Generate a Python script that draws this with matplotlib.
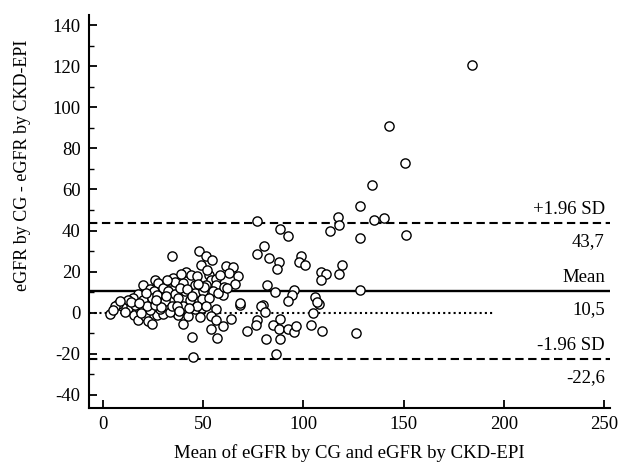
import numpy as np
import matplotlib.pyplot as plt
from matplotlib.ticker import MultipleLocator
import matplotlib.transforms as mtransforms

plt.rcParams['font.family'] = ['Liberation Serif', 'DejaVu Serif']
plt.rcParams['axes.unicode_minus'] = False

# ===============================
# Bland-Altman data
# mean of the two estimates / difference CG - CKD-EPI
# ===============================
mean_egfr = [
    184.1, 142.6, 150.6, 134.3, 128.0, 117.4, 117.7, 113.0, 135.0, 140.3, 128.3, 151.2,
    76.8, 88.1, 92.5, 80.5, 108.9, 111.4, 108.9, 119.0, 117.7, 128.0, 108.0, 109.4, 126.3,
    77.0, 83.0, 88.0, 86.7, 98.6, 97.6, 100.6, 82.0, 85.7, 95.1, 94.5, 92.3, 105.9, 106.9,
    79.8, 78.7,
    80.7, 104.7, 77.0, 76.5, 71.6, 88.1, 84.8, 87.8, 92.3, 95.3, 96.5, 103.9,
    81.2, 88.1, 86.5,
    40.0, 45.8, 49.2, 56.6, 68.2, 35.9, 37.5, 42.5, 48.3, 54.1, 56.6, 63.6, 40.0, 59.9,
    54.1, 44.2, 57.1, 45.0,
    3.5, 15.6, 17.3, 20.9, 22.6, 24.6, 26.7, 30.0, 33.4, 12.6, 9.3, 18.4, 23.4, 28.4,
    34.5, 19.8, 25.9, 27.5, 23.4, 25.6, 30.0, 33.4, 32.5, 17.6, 15.1, 12.6, 20.1, 24.3,
    28.4, 30.9, 7.6, 6.0, 15.9, 21.8, 25.9, 34.2, 35.0,
    47.9, 51.3, 54.6, 48.7, 61.3, 64.6, 62.9, 67.4, 65.7, 41.3, 43.7, 47.0, 52.9, 54.1,
    56.6, 35.9, 40.0, 45.8, 51.6, 56.6, 35.9, 40.8, 45.8, 49.9, 54.9, 59.9, 68.2, 37.5,
    43.3, 49.2, 53.0, 36.7, 46.7, 51.6,
    11.0, 14.0, 18.0, 21.5, 27.0, 31.5, 38.5, 42.0, 44.5, 50.5, 57.5, 60.5, 29.0, 38.0,
    47.5, 52.0, 58.5, 62.0, 19.0, 26.5, 32.0, 39.0, 43.0, 5.0, 8.5,
]
diff_egfr = [
    120.8, 90.9, 72.7, 62.3, 51.9, 46.7, 42.9, 40.0, 45.0, 45.9, 36.4, 37.6,
    44.5, 40.8, 37.2, 32.3, 19.8, 18.9, 15.8, 23.1, 19.0, 11.2, 4.4, -9.1, -9.9,
    28.8, 26.7, 24.7, 21.5, 27.5, 24.5, 23.1, 13.3, 10.1, 11.1, 8.8, 5.5, 7.5, 5.2,
    3.6, 3.1,
    0.3, -0.2, -3.4, -6.2, -8.8, -2.9, -6.2, -7.8, -7.8, -9.6, -6.7, -5.9,
    -12.9, -12.7, -20.0,
    3.1, 2.0, 2.3, 2.0, 3.9, 0.3, -1.0, -1.8, -2.3, -1.8, -3.4, -3.1, -5.5, -6.3,
    -8.0, -12.0, -12.4, -21.8,
    -0.6, -1.0, -3.4, -1.8, -4.2, -5.4, -1.0, -0.6, 0.3, 2.3, 3.1, 1.5, 1.5, 2.0,
    27.5, 13.3, 16.1, 14.5, 11.7, 10.4, 12.0, 15.3, 10.4, 9.1, 7.2, 6.3, 6.3, 7.2,
    7.5, 5.5, 4.2, 3.1, 3.9, 3.1, 3.6, 3.1, 16.9,
    29.9, 27.5, 25.9, 23.1, 22.6, 22.1, 19.4, 17.7, 14.0, 19.9, 18.2, 17.7, 18.5, 16.1,
    16.6, 15.0, 14.5, 13.7, 13.7, 13.3, 9.1, 10.4, 9.6, 10.4, 10.4, 8.8, 4.7, 7.2,
    6.3, 6.8, 7.2, 3.4, 3.1, 3.1,
    0.5, 5.0, 4.5, 9.5, 8.5, 8.0, 12.0, 11.5, 8.0, 12.5, 9.5, 12.5, 3.0, 1.0,
    14.0, 21.0, 18.5, 12.0, 0.0, 6.0, 16.0, 19.0, 2.5, 1.5, 5.5,
]

mean_diff = 10.5
upper_loa = 43.7
lower_loa = -22.6
zero_line_end = 195

# ===============================
# Plotting
# ===============================
fig = plt.figure(figsize=(6.27, 4.65), dpi=100)
ax = fig.add_axes([0.142, 0.123, 0.831, 0.845])

ax.scatter(mean_egfr, diff_egfr, s=44, facecolors='white', edgecolors='black',
           linewidths=1.0, zorder=3)

ax.axhline(mean_diff, color='black', lw=1.7, zorder=2)
ax.axhline(upper_loa, color='black', lw=1.5, ls=(0, (4, 2.2)), zorder=2)
ax.axhline(lower_loa, color='black', lw=1.5, ls=(0, (4, 2.2)), zorder=2)
ax.plot([-7, zero_line_end], [0, 0], color='black', lw=1.5, ls=(0, (1, 1.5)), zorder=1)

ax.set_xlim(-7, 253)
ax.set_ylim(-46.3, 145)

ax.set_xticks(np.arange(0, 251, 50))
ax.set_yticks(np.arange(-40, 141, 20))
ax.yaxis.set_minor_locator(MultipleLocator(10))

for side in ['top', 'right']:
    ax.spines[side].set_visible(False)
for side in ['left', 'bottom']:
    ax.spines[side].set_linewidth(1.5)

ax.tick_params(axis='both', which='major', direction='in', length=6, width=1.3,
               labelsize=13.5, pad=6)
ax.tick_params(axis='y', which='minor', direction='in', length=3.5, width=1.0)

ax.set_xlabel("Mean of eGFR by CG and eGFR by CKD-EPI", fontsize=13.5, labelpad=8)
ax.set_ylabel("eGFR by CG - eGFR by CKD-EPI", fontsize=13)
ax.yaxis.set_label_coords(-0.112, 0.618)

# labels at the right end of the reference lines
trans = mtransforms.blended_transform_factory(ax.transAxes, ax.transData)
labels = [("+1.96 SD", f"{upper_loa:.1f}".replace('.', ','), upper_loa),
          ("Mean", f"{mean_diff:.1f}".replace('.', ','), mean_diff),
          ("-1.96 SD", f"{lower_loa:.1f}".replace('.', ','), lower_loa)]
for above, below, yv in labels:
    ax.text(0.99, yv + 2.6, above, transform=trans, ha='right', va='bottom', fontsize=13.5)
    ax.text(0.99, yv - 4.8, below, transform=trans, ha='right', va='top', fontsize=13.5)

plt.savefig("out.png", dpi=100)
